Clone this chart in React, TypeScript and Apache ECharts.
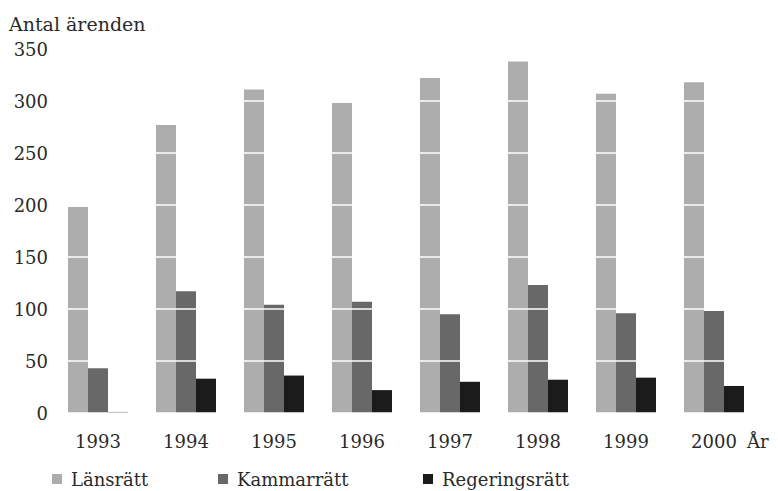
import React, { useEffect, useRef } from "react";
import * as echarts from "echarts";

const years = ["1993", "1994", "1995", "1996", "1997", "1998", "1999", "2000"];
const lansratt = [198, 277, 311, 298, 322, 338, 307, 318];
const kammarratt = [43, 117, 104, 107, 95, 123, 96, 98];
const regeringsratt = [1, 33, 36, 22, 30, 32, 34, 26];
const seriesNames = ["Länsrätt", "Kammarrätt", "Regeringsrätt"];
const colors = ["#adadad", "#686868", "#1b1b1b"];
const legendLefts = [52, 218, 423];

const FONT = "DejaVu Serif";

export default function App() {
  const ref = useRef<HTMLDivElement>(null);
  useEffect(() => {
    if (!ref.current) return;
    const chart = echarts.init(ref.current, undefined, { renderer: "svg" });
    const data = [lansratt, kammarratt, regeringsratt];
    chart.setOption({
      animation: false,
      backgroundColor: "#ffffff",
      textStyle: { fontFamily: FONT, color: "#2a2a2a" },
      title: {
        text: "Antal ärenden",
        left: 4,
        top: 9,
        textStyle: { fontFamily: FONT, fontWeight: "normal", fontSize: 19, color: "#2a2a2a" },
      },
      legend: seriesNames.map((n, i) => ({
        data: [n],
        left: legendLefts[i],
        top: 465,
        padding: [5, 5, 5, 0],
        icon: "rect",
        itemWidth: 10,
        itemHeight: 10,
        textStyle: { fontFamily: FONT, fontSize: 18, color: "#2a2a2a", padding: [0, 0, 0, 4] },
      })),
      grid: { left: 54, right: 20, top: 49, bottom: 78 },
      xAxis: {
        type: "category",
        data: years,
        name: "År",
        nameLocation: "end",
        nameGap: -11,
        nameTextStyle: { fontFamily: FONT, fontSize: 18, color: "#2a2a2a", verticalAlign: "top", padding: [19, 0, 0, 0] },
        axisLine: { show: false },
        axisTick: { show: false },
        axisLabel: { fontFamily: FONT, fontSize: 18, color: "#2a2a2a", margin: 19 },
      },
      yAxis: {
        type: "value",
        min: 0,
        max: 350,
        interval: 50,
        z: 5,
        axisLine: { show: false },
        axisTick: { show: false },
        axisLabel: { fontFamily: FONT, fontSize: 18, color: "#2a2a2a", margin: 6 },
        splitLine: { show: true, lineStyle: { color: "#ffffff", width: 1.5 } },
      },
      series: seriesNames.map((n, i) => ({
        name: n,
        type: "bar",
        data: data[i],
        barWidth: 20,
        barGap: "0%",
        itemStyle: { color: colors[i] },
      })),
    });
    return () => chart.dispose();
  }, []);
  return <div ref={ref} style={{ width: 778, height: 491, position: "absolute", left: 0, top: 0 }} />;
}
